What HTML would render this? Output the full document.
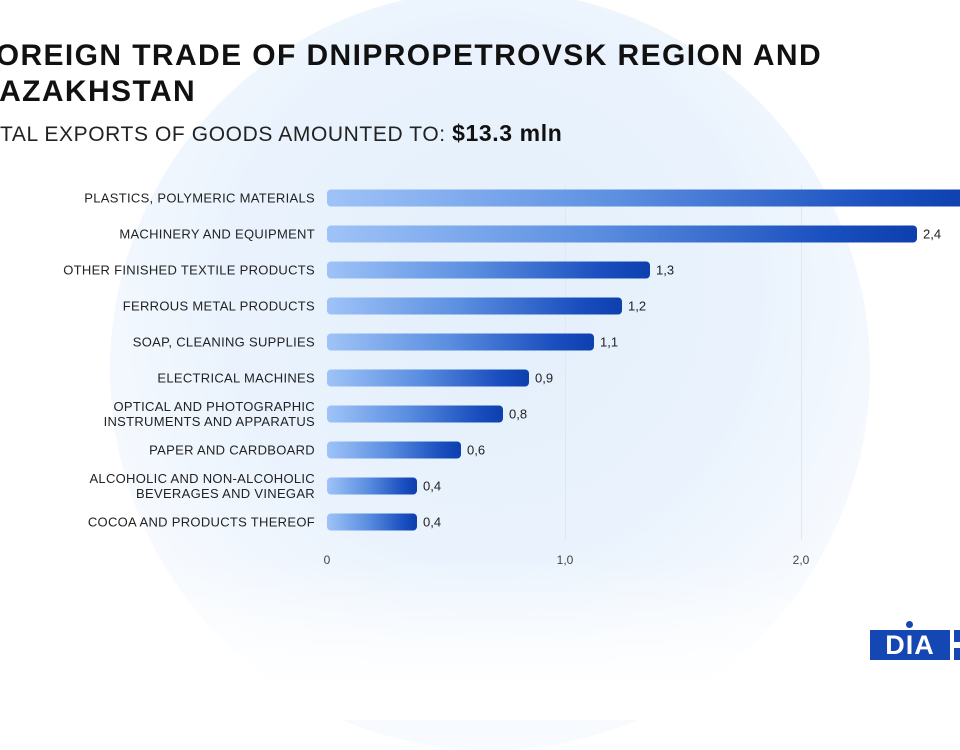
<!DOCTYPE html>
<html><head><style>
body{margin:0;width:960px;height:720px;overflow:hidden;background:#fff;font-family:"Liberation Sans",sans-serif;position:relative}
.bg{position:absolute;left:110px;top:-10px;width:760px;height:760px;border-radius:50%;background:radial-gradient(circle at 50% 40%,#e3effc 0%,#eaf3fd 45%,rgba(240,246,253,0.6) 70%,rgba(255,255,255,0) 100%)}
.fade{position:absolute;left:0;top:560px;width:960px;height:160px;background:linear-gradient(rgba(255,255,255,0),#fff 80%)}
.t{position:absolute;left:-24px;top:38px;font-size:30px;font-weight:bold;color:#111;line-height:36px;letter-spacing:1.4px}
.s{position:absolute;left:-30px;top:120px;font-size:21px;color:#222;letter-spacing:0.6px}
.s b{font-size:23px;color:#111}
.lab{position:absolute;right:645px;font-size:13px;color:#222;text-align:right;line-height:15px;letter-spacing:0.3px;transform:translateY(-50%)}
.bar{position:absolute;left:327px;height:17px;border-radius:4px;background:linear-gradient(90deg,#9fc3f8,#5b8fe0 45%,#1a4fbf 85%,#0d3fad);transform:translateY(-50%)}
.v{position:absolute;font-size:13px;color:#222;transform:translateY(-50%)}
.g{position:absolute;top:185px;width:1px;height:355px;background:#e2e6ee}
.tk{position:absolute;top:553px;font-size:12px;color:#444;transform:translateX(-50%)}
</style></head><body>
<div class="bg"></div><div class="fade"></div>
<div class="t">FOREIGN TRADE OF DNIPROPETROVSK REGION AND<br>KAZAKHSTAN</div>
<div class="s">TOTAL EXPORTS OF GOODS AMOUNTED TO: <b>$13.3 mln</b></div>
<div class="g" style="left:565px"></div><div class="g" style="left:801px"></div>
<div class="tk" style="left:327px">0</div><div class="tk" style="left:565px">1,0</div><div class="tk" style="left:801px">2,0</div>

<div class="lab" style="top:198px">PLASTICS, POLYMERIC MATERIALS</div><div class="bar" style="top:198px;width:650px"></div>
<div class="lab" style="top:234px">MACHINERY AND EQUIPMENT</div><div class="bar" style="top:234px;width:590px"></div><div class="v" style="top:234px;left:923px">2,4</div>
<div class="lab" style="top:270px">OTHER FINISHED TEXTILE PRODUCTS</div><div class="bar" style="top:270px;width:323px"></div><div class="v" style="top:270px;left:656px">1,3</div>
<div class="lab" style="top:306px">FERROUS METAL PRODUCTS</div><div class="bar" style="top:306px;width:295px"></div><div class="v" style="top:306px;left:628px">1,2</div>
<div class="lab" style="top:342px">SOAP, CLEANING SUPPLIES</div><div class="bar" style="top:342px;width:267px"></div><div class="v" style="top:342px;left:600px">1,1</div>
<div class="lab" style="top:378px">ELECTRICAL MACHINES</div><div class="bar" style="top:378px;width:202px"></div><div class="v" style="top:378px;left:535px">0,9</div>
<div class="lab" style="top:414px">OPTICAL AND PHOTOGRAPHIC<br>INSTRUMENTS AND APPARATUS</div><div class="bar" style="top:414px;width:176px"></div><div class="v" style="top:414px;left:509px">0,8</div>
<div class="lab" style="top:450px">PAPER AND CARDBOARD</div><div class="bar" style="top:450px;width:134px"></div><div class="v" style="top:450px;left:467px">0,6</div>
<div class="lab" style="top:486px">ALCOHOLIC AND NON-ALCOHOLIC<br>BEVERAGES AND VINEGAR</div><div class="bar" style="top:486px;width:90px"></div><div class="v" style="top:486px;left:423px">0,4</div>
<div class="lab" style="top:522px">COCOA AND PRODUCTS THEREOF</div><div class="bar" style="top:522px;width:90px"></div><div class="v" style="top:522px;left:423px">0,4</div>

<div style="position:absolute;left:870px;top:630px;width:80px;height:30px;background:#1446b4;color:#fff;font-weight:bold;font-size:27px;line-height:30px;text-align:center;letter-spacing:1px">DIA</div>
<div style="position:absolute;left:906px;top:621px;width:7px;height:7px;border-radius:50%;background:#1446b4"></div>
<div style="position:absolute;left:954px;top:630px;width:6px;height:12px;background:#1446b4"></div>
<div style="position:absolute;left:954px;top:648px;width:6px;height:12px;background:#1446b4"></div>
</body></html>
